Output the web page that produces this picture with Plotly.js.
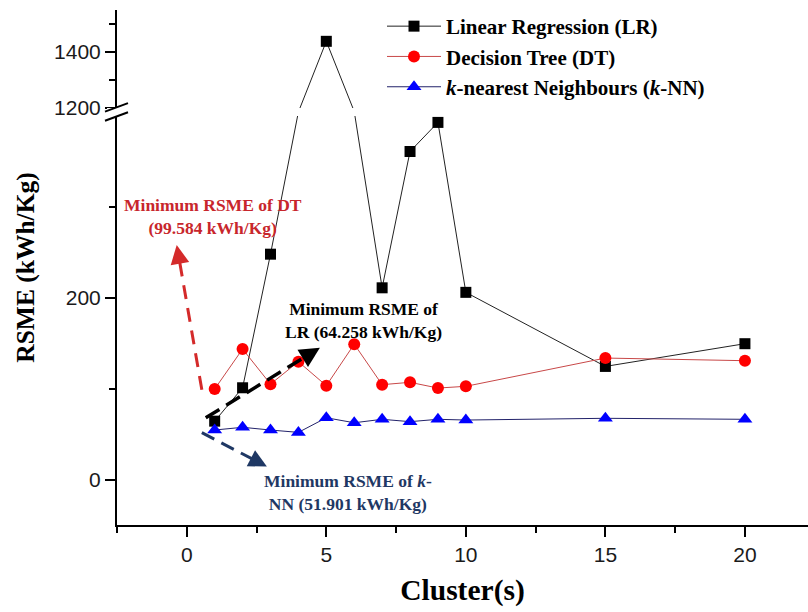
<!DOCTYPE html>
<html><head><meta charset="utf-8">
<script src="https://cdn.plot.ly/plotly-3.0.1.min.js"></script>
<style>html,body{margin:0;padding:0;background:#fff;}#chart{width:808px;height:612px;}</style>
</head><body><div id="chart"></div>
<script>
const clusters = [1, 2, 3, 4, 5, 6, 7, 8, 9, 10, 15, 20];
const lrValues = [64.258, 101, 248, 800, 1438, 850, 211, 361, 393, 206, 124.5, 149.5];
const dtValues = [99.584, 143.6, 105, 129.7, 103.3, 149, 104.4, 107, 100.7, 102.6, 133.7, 130.8];
const knnValues = [54.5, 57.5, 54.5, 51.901, 68, 62.5, 66.3, 63.7, 66.3, 65.5, 67.4, 66.3];
const yTickValues = [0, 200, 1200, 1400];
const yMinorValues = [100, 300, 1300, 1500];
const xTickValues = [0, 5, 10, 15, 20];
const seriesNames = ['<b>Linear Regression (LR)</b>', '<b>Decision Tree (DT)</b>', '<b><i>k</i>-nearest Neighbours (<i>k</i>-NN)</b>'];

// broken y axis: -50..400 (lower) and 1200..1550 (upper), compressed gap between
const LOW_MAX = 400, HIGH_MIN = 1200, HIGH_MAX = 1550, GAP = 9, HIGH_SCALE = 0.3077;
function brk(v) {
  if (v <= LOW_MAX) return v;
  if (v >= HIGH_MIN) return LOW_MAX + GAP + (v - HIGH_MIN) * HIGH_SCALE;
  return LOW_MAX + (v - LOW_MAX) / (HIGH_MIN - LOW_MAX) * GAP;
}
const inBreak = v => v > LOW_MAX && v < HIGH_MIN;
const Y0 = -50, Y1 = brk(HIGH_MAX);
const X0 = -2.5, X1 = 22.26;
const M = {l: 117, r: 0, t: 10, b: 87};
const PW = 808 - M.l - M.r, PH = 612 - M.t - M.b;
const pxX = PW / (X1 - X0), pxY = PH / (Y1 - Y0);
const py = d => (d - Y0) / (Y1 - Y0); // display value -> paper y

const serif = 'Liberation Serif, Times New Roman, serif';
const sans = 'Liberation Sans, Arial, sans-serif';

const traces = [
  {x: clusters, y: lrValues.map(brk), name: seriesNames[0], mode: 'lines+markers',
   line: {color: '#222', width: 1},
   marker: {symbol: 'square', size: 11, color: lrValues.map(v => inBreak(v) ? 'rgba(0,0,0,0)' : '#000'),
     line: {width: 0}}},
  {x: clusters, y: dtValues.map(brk), name: seriesNames[1], mode: 'lines+markers',
   line: {color: '#c84848', width: 1}, marker: {symbol: 'circle', size: 12, color: '#ff0000'}},
  {x: clusters, y: knnValues.map(brk), name: seriesNames[2], mode: 'lines+markers',
   line: {color: '#22226a', width: 1}, marker: {symbol: 'triangle-up', size: 13, color: '#0000ff'}}
];

const shapes = [];
const annotations = [];
function dashedArrow(x0, y0, x1, y1, color, width, dash, head) {
  const dxp = (x1 - x0) * pxX, dyp = (y1 - y0) * pxY;
  const len = Math.hypot(dxp, dyp);
  const ux = dxp / len, uy = dyp / len;
  const back = 16;
  const tx = x1 - ux * back / pxX, ty = y1 - uy * back / pxY;
  shapes.push({type: 'line', xref: 'x', yref: 'y', x0: x0, y0: y0, x1: tx, y1: ty,
    line: {color: color, width: width, dash: dash}, layer: 'above'});
  annotations.push({x: x1, y: y1, xref: 'x', yref: 'y', text: '', showarrow: true,
    ax: -ux * (back + 2), ay: uy * (back + 2), arrowhead: 2, arrowsize: head, arrowwidth: width,
    arrowcolor: color});
}
dashedArrow(0.54, 98.9, -0.36, 258, '#d42a2a', 3, '14px,9px', 1.25);
dashedArrow(0.68, 68, 4.77, 145, '#000', 3.5, '16px,8px', 1.15);
dashedArrow(0.54, 51.6, 2.87, 14.3, '#1f3864', 3, '14px,8px', 1.2);

const noteFont = (c) => ({family: serif, size: 17.5, color: c});
annotations.push(
  {x: 0.93, y: 290, xref: 'x', yref: 'y', showarrow: false, align: 'center',
   text: '<b>Minimum RSME of DT<br>(99.584 kWh/Kg)</b>', font: noteFont('#c8262c')},
  {x: 6.34, y: 175, xref: 'x', yref: 'y', showarrow: false, align: 'center',
   text: '<b>Minimum RSME of<br>LR (64.258 kWh/Kg)</b>', font: noteFont('#000')},
  {x: 5.77, y: -14, xref: 'x', yref: 'y', showarrow: false, align: 'center',
   text: '<b>Minimum RSME of <i>k</i>-<br>NN (51.901 kWh/Kg)</b>', font: noteFont('#1f3864')}
);

// axis break band and slashes
const bandLo = py(brk(401)), bandHi = py(brk(1199.5));
shapes.push({type: 'rect', xref: 'paper', yref: 'paper', x0: -10 / PW, x1: 1.0, y0: bandLo, y1: bandHi,
  fillcolor: '#fff', line: {width: 0}, layer: 'above'});
const sx0 = -12 / PW, sx1 = 11 / PW, rise = 8.5 / PH;
[bandHi + 0.5 / PH, bandLo - 0.5 / PH].forEach(yc => {
  shapes.push({type: 'line', xref: 'paper', yref: 'paper', x0: sx0, x1: sx1, y0: yc - rise / 2, y1: yc + rise / 2,
    line: {color: '#000', width: 2}, layer: 'above'});
});

const layout = {
  width: 808, height: 612, margin: M,
  paper_bgcolor: '#fff', plot_bgcolor: '#fff',
  showlegend: true,
  legend: {x: (382 - M.l) / PW, y: 1 + 4 / PH, xanchor: 'left', yanchor: 'top',
    bgcolor: 'rgba(0,0,0,0)', font: {family: serif, size: 21, color: '#000'}, itemwidth: 54,
    tracegroupgap: 0},
  xaxis: {range: [X0, X1], showline: true, linewidth: 2, linecolor: '#000', mirror: false,
    showgrid: false, zeroline: false, ticks: 'outside', ticklen: 10, tickwidth: 2, tickcolor: '#000',
    tickmode: 'array', tickvals: xTickValues, ticktext: xTickValues.map(String),
    minor: {ticks: 'outside', ticklen: 6, tickwidth: 2, tickcolor: '#000', dtick: 2.5, tick0: 0, showgrid: false},
    tickfont: {family: sans, size: 21, color: '#1a1a1a'},
    title: {text: '<b>Cluster(s)</b>', font: {family: serif, size: 29.5, color: '#000'}, standoff: 14}},
  yaxis: {range: [Y0, Y1], showline: true, linewidth: 2, linecolor: '#000',
    showgrid: false, zeroline: false, ticks: 'outside', ticklen: 10, tickwidth: 2, tickcolor: '#000',
    tickmode: 'array', tickvals: yTickValues.map(brk), ticktext: yTickValues.map(String),
    minor: {ticks: 'outside', ticklen: 6, tickwidth: 2, tickcolor: '#000', tickmode: 'array',
      tickvals: yMinorValues.map(brk), showgrid: false},
    tickfont: {family: sans, size: 21, color: '#1a1a1a'},
    title: {text: '<b>RSME (kWh/Kg)</b>', font: {family: serif, size: 25.5, color: '#000'}, standoff: 12}},
  shapes: shapes,
  annotations: annotations
};

Plotly.newPlot('chart', traces, layout, {displayModeBar: false, staticPlot: true});
</script>
</body></html>
